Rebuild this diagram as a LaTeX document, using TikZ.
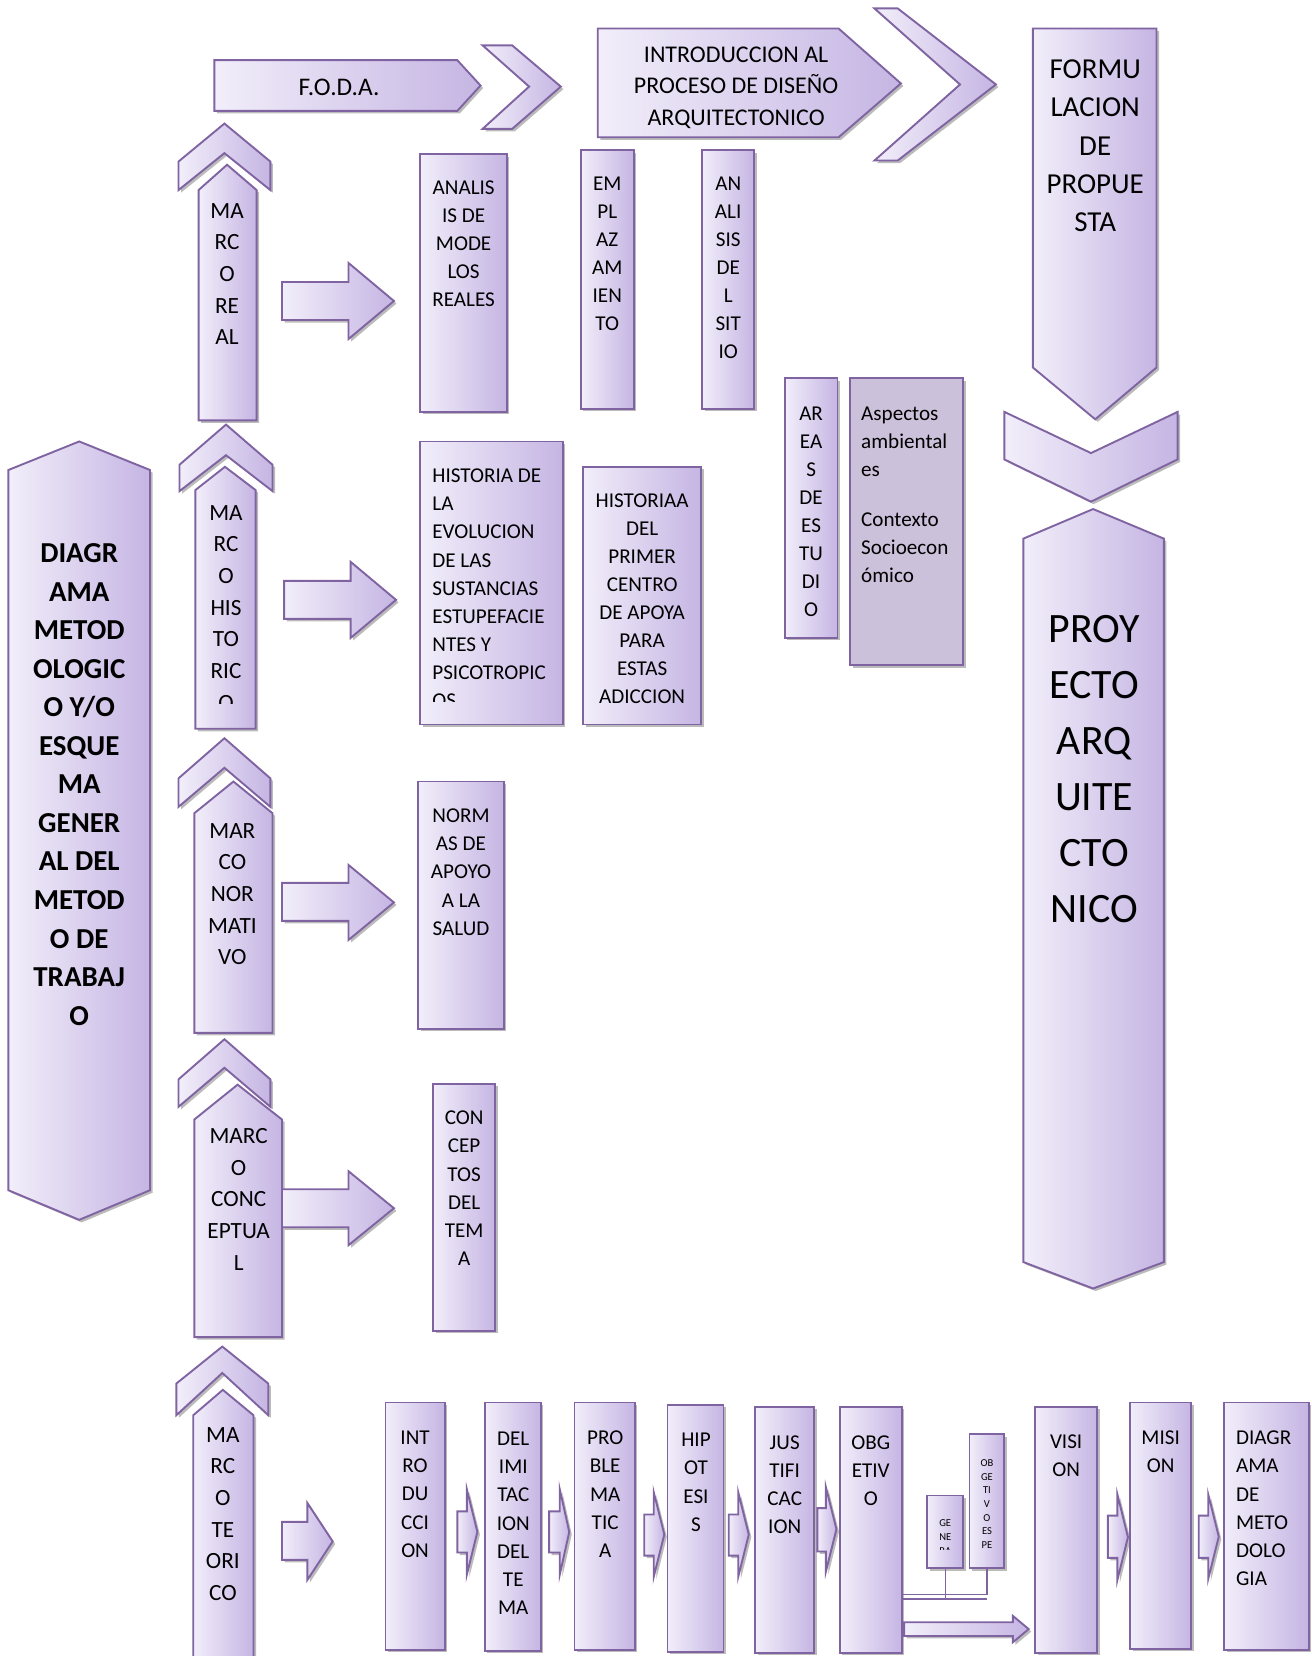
\documentclass[tikz,border=0pt]{standalone}
\usepackage{fontspec}
\setmainfont{Carlito}
\usetikzlibrary{shadows,fit}
\definecolor{lavL}{RGB}{242,238,250}
\definecolor{lavR}{RGB}{197,181,227}
\definecolor{bord}{RGB}{128,100,162}
\definecolor{shd}{RGB}{120,120,120}
\definecolor{aspc}{RGB}{204,193,218}
\tikzset{
 shp/.style={draw=bord, line width=0.9pt, left color=lavL, right color=lavR,
   drop shadow={shadow xshift=1.2pt, shadow yshift=-1.2pt, fill=shd, opacity=0.5}},
 box/.style={shp, rectangle, inner sep=0pt, outer sep=0pt},
 aspbox/.style={draw=bord, line width=0.9pt, fill=aspc, rectangle, inner sep=0pt, outer sep=0pt,
   drop shadow={shadow xshift=1.2pt, shadow yshift=-1.2pt, fill=shd, opacity=0.5}},
 tc/.style={inner sep=0pt, anchor=north, align=center},
 tl/.style={inner sep=0pt, anchor=north west, align=left},
 fs/.style={font=\fontsize{10}{13.3}\selectfont},
 fm/.style={font=\fontsize{11}{15}\selectfont},
 fb/.style={font=\fontsize{13.7}{18.25}\selectfont\bfseries},
 ff/.style={font=\fontsize{13.7}{18.1}\selectfont},
 fp/.style={font=\fontsize{19.8}{26.5}\selectfont},
 ft/.style={font=\fontsize{5}{6.45}\selectfont},
 conn/.style={draw=bord, line width=0.6pt},
}
\newcommand\UpChev[6]{\path[shp] (#1,#4) -- ({(#1+#2)/2},#3) -- (#2,#4) -- (#2,#5) -- ({(#1+#2)/2},#6) -- (#1,#5) -- cycle;}
\newcommand\UpArr[6]{\path[shp] (#1,#6) -- (#1,#5) -- (#3,#4) -- (#2,#5) -- (#2,#6) -- cycle;}
\newcommand\RtArr[7]{\path[shp] (#1,#4) -- (#2,#4) -- (#2,#6) -- (#3,{(#6+#7)/2}) -- (#2,#7) -- (#2,#5) -- (#1,#5) -- cycle;}
\begin{document}
\begin{tikzpicture}[x=0.5pt,y=-0.5pt]
\useasboundingbox (0,0) rectangle (1242,1568);
\fill[white] (0,0) rectangle (1242,1568);

% ---------- top row ----------
\path[shp] (203,57) -- (433,57) -- (455,81) -- (433,105) -- (203,105) -- cycle;
\node[inner sep=0pt, font=\fontsize{12}{15}\selectfont] (tfoda) at (321,83) {F.O.D.A.};
\path[shp] (457,43) -- (485,43) -- (531,82) -- (485,122) -- (457,122) -- (501,82) -- cycle;
\path[shp] (566,27) -- (794,27) -- (853,79) -- (794,130) -- (566,130) -- cycle;
\node[tc, font=\fontsize{11.35}{15}\selectfont] (tintro) at (697,43.8) {INTRODUCCION AL\\PROCESO DE DISEÑO\\ARQUITECTONICO};
\path[shp] (828,8) -- (850,8) -- (943,80) -- (850,152) -- (828,152) -- (909,80) -- cycle;

% ---------- right column ----------
\path[shp] (978,27) -- (1095,27) -- (1095,348) -- (1037,397) -- (978,348) -- cycle;
\node[tc, ff] (tform) at (1037,56.3) {FORMU\\LACION\\DE\\PROPUE\\STA};
\path[shp] (951,390) -- (1033,429) -- (1115,390) -- (1115,435) -- (1033,475) -- (951,435) -- cycle;
\path[shp] (969,510) -- (1035,482) -- (1102,510) -- (1102,1195) -- (1035,1220) -- (969,1195) -- cycle;
\node[tc, fp] (tproy) at (1036,582.5) {PROY\\ECTO\\ARQ\\UITE\\CTO\\NICO};

% ---------- left column ----------
\path[shp] (8,445) -- (75,418) -- (142,445) -- (142,1127) -- (75,1155) -- (8,1127) -- cycle;
\node[tc, fb] (tdiag) at (75,514.3) {DIAGR\\AMA\\METOD\\OLOGIC\\O Y/O\\ESQUE\\MA\\GENER\\AL DEL\\METOD\\O DE\\TRABAJ\\O};

% ---------- marcos ----------
\UpChev{169}{256}{117}{153}{180}{145}
\UpArr{188}{243}{215}{156}{180}{398}
\node[tc, fm] (treal) at (215,192) {MA\\RC\\O\\RE\\AL};
\RtArr{267}{330}{373}{267}{303}{249}{321}

\UpChev{170}{258}{402}{440}{465}{431}
\UpArr{185}{242}{213}{442}{464}{690}
\begin{scope}
\clip (185,440) rectangle (242,666);
\node[tc, fm] (thist) at (214,478) {MA\\RC\\O\\HIS\\TO\\RIC\\O};
\end{scope}
\RtArr{269}{332}{375}{550}{586}{532}{604}

\UpChev{169}{256}{699}{737}{764}{727}
\UpArr{184}{258}{221}{740}{770}{978}
\node[tc, fm] (tnorm) at (220,779) {MAR\\CO\\NOR\\MATI\\VO};
\RtArr{267}{330}{373}{836}{872}{819}{890}

\UpChev{169}{256}{984}{1022}{1048}{1011}
\UpArr{184}{267}{225}{1027}{1060}{1266}
\node[tc, fm] (tconc) at (226,1068) {MARC\\O\\CONC\\EPTUA\\L};
\RtArr{267}{330}{373}{1126}{1162}{1109}{1179}

\UpChev{167}{254}{1275}{1310}{1340}{1300}
\UpArr{183}{240}{211}{1316}{1340}{1572}
\node[tc, fm] (tteor) at (211,1351) {MA\\RC\\O\\TE\\ORI\\CO};
\RtArr{267}{291}{315}{1441}{1477}{1423}{1496}

% ---------- middle boxes ----------
\node[box, fit={(398,146) (480,390)}] (analis) {};
\node[tc, fs] (tanalis) at (439,170.7) {ANALIS\\IS DE\\MODE\\LOS\\REALES};
\node[box, fit={(550,142) (600,387)}] (emplaz) {};
\node[tc, fs] (templaz) at (575,166.7) {EM\\PL\\AZ\\AM\\IEN\\TO};
\node[box, fit={(665,142) (714,387)}] (sitio) {};
\node[tc, fs] (tsitio) at (689.5,166.7) {AN\\ALI\\SIS\\DE\\L\\SIT\\IO};
\node[box, fit={(743,358) (793,604)}] (areas) {};
\node[tc, fs] (tareas) at (768,384.7) {AR\\EA\\S\\DE\\ES\\TU\\DI\\O};
\node[aspbox, fit={(805,358) (912,630)}] (aspect) {};
\node[tl, fs] (tasp1) at (815,384.7) {Aspectos\\ambiental\\es};
\node[tl, fs] (tasp2) at (815,484.7) {Contexto\\Socioecon\\ómico};

\node[box, fit={(398,418) (533,686)}] (hist1) {};
\begin{scope}
\clip (398,418) rectangle (533,664);
\node[tl, fs] (thist1) at (409,443.7) {HISTORIA DE\\LA\\EVOLUCION\\DE LAS\\SUSTANCIAS\\ESTUPEFACIE\\NTES Y\\PSICOTROPIC\\OS};
\end{scope}
\node[box, fit={(552,442) (664,686)}] (hist2) {};
\node[tc, fs] (thist2) at (608,466.7) {HISTORIAA\\DEL\\PRIMER\\CENTRO\\DE APOYA\\PARA\\ESTAS\\ADICCION};

\node[box, fit={(396,740) (477,974)}] (norm) {};
\node[tc, fs] (tnormas) at (436.5,765.7) {NORM\\AS DE\\APOYO\\A LA\\SALUD};
\node[box, fit={(410,1026) (469,1260)}] (concep) {};
\node[tc, fs] (tconcep) at (439.5,1051.7) {CON\\CEP\\TOS\\DEL\\TEM\\A};

% ---------- bottom row ----------
\node[box, fit={(365,1328) (421,1562)}] (intro) {};
\node[tc, fs] (tintro2) at (393,1354.7) {INT\\RO\\DU\\CCI\\ON};
\RtArr{433}{442}{452}{1431}{1470}{1410}{1491}
\node[box, fit={(459,1328) (512,1563)}] (delim) {};
\node[tc, fs] (tdelim) at (486,1355.7) {DEL\\IMI\\TAC\\ION\\DEL\\TE\\MA};
\RtArr{520}{530}{539}{1431}{1470}{1410}{1491}
\node[box, fit={(544,1328) (601,1562)}] (probl) {};
\node[tc, fs] (tprobl) at (573,1354.7) {PRO\\BLE\\MA\\TIC\\A};
\RtArr{610}{619}{629}{1434}{1473}{1413}{1493}
\node[box, fit={(632,1330) (685,1564)}] (hipo) {};
\node[tc, fs] (thipo) at (659,1356.7) {HIP\\OT\\ESI\\S};
\RtArr{690}{699}{709}{1434}{1473}{1413}{1493}
\node[box, fit={(715,1332) (771,1565)}] (justi) {};
\node[tc, fs] (tjusti) at (743,1358.7) {JUS\\TIFI\\CAC\\ION};
\RtArr{774}{782}{792}{1428}{1469}{1408}{1488}
\node[box, fit={(795,1332) (854,1565)}] (obg) {};
\node[tc, fs] (tobg) at (824.5,1358.7) {OBG\\ETIV\\O};

\node[box, fit={(878,1416) (912,1485)}] (genera) {};
\begin{scope}
\clip (878,1416) rectangle (912,1467);
\node[tc, ft] (tgenera) at (895,1438.8) {GE\\NE\\RA};
\end{scope}
\node[box, fit={(918,1358) (951,1485)}] (espe) {};
\node[tc, ft] (tespe) at (934.5,1381.8) {OB\\GE\\TI\\V\\O\\ES\\PE};

\coordinate (hy1) at (0,1510);
\coordinate (hy2) at (0,1514);
\draw[conn] (obg.east |- hy1) -- (espe.south |- hy1) -- (espe.south);
\draw[conn] (obg.east |- hy2) -- (espe.south |- hy2);
\draw[conn] (genera.south) -- (genera.south |- hy2);
\RtArr{856}{959}{974}{1536}{1549}{1530}{1555}

\node[box, fit={(980,1332) (1039,1565)}] (vision) {};
\node[tc, fs] (tvision) at (1009.5,1357.7) {VISI\\ON};
\RtArr{1049}{1058}{1068}{1435}{1475}{1415}{1496}
\node[box, fit={(1070,1328) (1128,1561)}] (mision) {};
\node[tc, fs] (tmision) at (1099,1354.7) {MISI\\ON};
\RtArr{1135}{1144}{1154}{1435}{1475}{1415}{1495}
\node[box, fit={(1159,1328) (1239,1562)}] (diagm) {};
\node[tl, fs] (tdiagm) at (1170,1354.7) {DIAGR\\AMA\\DE\\METO\\DOLO\\GIA};
\end{tikzpicture}
\end{document}
